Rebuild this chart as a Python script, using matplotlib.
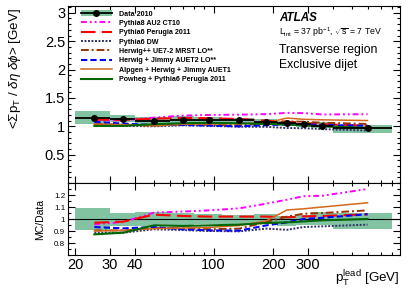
import numpy as np
import matplotlib
matplotlib.use("Agg")
import matplotlib.pyplot as plt
from matplotlib.patches import Patch
from matplotlib.lines import Line2D
from matplotlib.legend_handler import HandlerTuple
from matplotlib.ticker import FixedLocator, MultipleLocator, NullFormatter

plt.rcParams['font.family'] = ['Liberation Sans', 'DejaVu Sans']
plt.rcParams['mathtext.fontset'] = 'custom'
plt.rcParams['mathtext.rm'] = 'Liberation Sans'
plt.rcParams['mathtext.it'] = 'Liberation Sans:italic'

# bins in leading jet pT [GeV]
bin_edges = [20, 30, 40, 60, 80, 110, 160, 210, 260, 310, 400, 800]
bin_centers = [25, 35, 50, 70, 95, 135, 185, 235, 285, 355, 600]

data_2010 = [1.154, 1.136, 1.094, 1.119, 1.119, 1.106, 1.076, 1.065, 1.035, 1.012, 0.97]
band_hi = [1.094, 1.053, 1.06, 1.05, 1.045, 1.033, 1.044, 1.025, 1.03, 1.058, 1.053]
band_lo = [0.908, 0.945, 0.94, 0.95, 0.955, 0.95, 0.955, 0.94, 0.95, 0.95, 0.914]

# MC / data ratios
r_pythia8 = [0.955, 0.975, 1.053, 1.062, 1.072, 1.089, 1.128, 1.161, 1.19, 1.194, 1.25]
r_perugia = [0.969, 0.978, 1.036, 1.025, 1.02, 1.02, 1.02, 1.014, 1.022, 1.025, 1.039]
r_dw = [0.886, 0.886, 0.914, 0.908, 0.90, 0.897, 0.92, 0.91, 0.933, 0.939, 0.953]
r_herwigpp = [0.905, 0.905, 0.925, 0.922, 0.915, 0.92, 0.975, 1.02, 1.044, 1.05, 1.072]
r_jimmy = [0.933, 0.922, 0.933, 0.914, 0.905, 0.903, 0.947, 0.972, 1.0, 1.01, 1.04]
r_alpgen = [0.90, 0.905, 0.92, 0.925, 0.93, 0.945, 0.985, 1.075, 1.085, 1.10, 1.135]
r_powheg = [0.872, 0.886, 0.947, 0.942, 0.947, 0.953, 0.967, 0.972, 0.98, 0.989, 1.0]

mc_names = ["Pythia8 AU2 CT10", "Pythia6 Perugia 2011", "Pythia6 DW",
            "Herwig++ UE7-2 MRST LO**", "Herwig + Jimmy AUET2 LO**",
            "Alpgen + Herwig + Jimmy AUET1", "Powheg + Pythia6 Perugia 2011"]
mc_ratios = [r_pythia8, r_perugia, r_dw, r_herwigpp, r_jimmy, r_alpgen, r_powheg]
mc_colors = ["#ff00ff", "#ff0000", "#333366", "#993300", "#0000ff", "#d2691e", "#006600"]
mc_dashes = [(3, 1.5, 1, 1.5, 1, 1.5), (7, 3), (1, 0.8), (4, 1.5, 1, 1.5), (3, 1.5), None, None]
mc_lw = [1.4, 1.5, 1.4, 1.4, 1.5, 1.1, 1.5]

band_color = "#82c4a2"

edges = np.array(bin_edges, dtype=float)
widths = np.diff(edges)
data = np.array(data_2010)
lo = np.array(band_lo)
hi = np.array(band_hi)

fig = plt.figure(figsize=(4.07, 2.92), dpi=100)
ax = fig.add_axes([68/407, 1 - 183/292, 332/407, 177/292])
axr = fig.add_axes([68/407, 1 - 255/292, 332/407, 72/292])

# upper panel
ax.bar(edges[:-1], data * (hi - lo), bottom=data * lo, width=widths, align='edge',
       color=band_color, linewidth=0, zorder=1)
mc_handles = []
for name, r, c, d, lw in zip(mc_names, mc_ratios, mc_colors, mc_dashes, mc_lw):
    ln, = ax.plot(bin_centers, data * np.array(r), color=c, lw=lw, zorder=2, label=name)
    if d is not None:
        ln.set_dashes(d)
    mc_handles.append(ln)
    ln2, = axr.plot(bin_centers, r, color=c, lw=lw, zorder=3)
    if d is not None:
        ln2.set_dashes(d)

xerr = [np.array(bin_centers) - edges[:-1], edges[1:] - np.array(bin_centers)]
ax.errorbar(bin_centers, data, xerr=xerr, fmt='o', color='black', ms=4, lw=1.3,
            capsize=0, zorder=4)

data_handle = (Patch(facecolor=band_color, edgecolor='none'),
               Line2D([], [], color='black', lw=1.3, marker='o', ms=4))
ax.legend([data_handle] + mc_handles, ["Data 2010"] + mc_names,
          handler_map={tuple: HandlerTuple(ndivide=1, pad=0)},
          loc='upper left', bbox_to_anchor=(0.025, 1.0), frameon=False,
          prop={'weight': 'bold', 'size': 5.1},
          handlelength=4.4, handleheight=0.9, handletextpad=1.0, labelspacing=0.28,
          borderaxespad=0.2)

ax.text(0.635, 0.935, "ATLAS", transform=ax.transAxes, fontsize=8.4,
        fontweight='bold', fontstyle='italic', va='center')
ax.text(0.635, 0.85, r"L$_{\rm int}$ = 37 pb$^{-1}$, $\sqrt{\rm s}$ = 7 TeV",
        transform=ax.transAxes, fontsize=6.3, va='center')
ax.text(0.635, 0.75, "Transverse region", transform=ax.transAxes, fontsize=8.8, va='center')
ax.text(0.635, 0.665, "Exclusive dijet", transform=ax.transAxes, fontsize=8.8, va='center')

ax.set_xscale('log')
ax.set_xlim(18.4, 875)
ax.set_ylim(0, 3.12)
ax.set_yticks([0.5, 1.0, 1.5, 2.0, 2.5, 3.0])
ax.set_yticklabels(["0.5", "1", "1.5", "2", "2.5", "3"])
ax.yaxis.set_minor_locator(MultipleLocator(0.1))
ax.set_ylabel(r"<$\Sigma$p$_{\rm T}$ / $\delta\eta$ $\delta\phi$> [GeV]", fontsize=9.6)
ax.yaxis.set_label_coords(-0.135, 0.645)

# ratio panel
axr.bar(edges[:-1], hi - lo, bottom=lo, width=widths, align='edge',
        color=band_color, linewidth=0, zorder=1)
axr.axhline(1.0, color='black', lw=0.8, zorder=2)
axr.set_xscale('log')
axr.set_xlim(18.4, 875)
axr.set_ylim(0.7, 1.3)
axr.set_yticks([0.8, 0.9, 1.0, 1.1, 1.2])
axr.set_yticklabels(["0.8", "0.9", "1", "1.1", "1.2"])
axr.yaxis.set_minor_locator(MultipleLocator(0.05))
axr.set_ylabel("MC/Data", fontsize=7.5)
axr.yaxis.set_label_coords(-0.07, 0.5)
axr.set_xlabel(r"p$_{\rm T}^{\rm lead}$ [GeV]", fontsize=9.6, loc='right', labelpad=-2)

for a in (ax, axr):
    a.xaxis.set_major_locator(FixedLocator([20, 30, 40, 100, 200, 300]))
    a.xaxis.set_minor_locator(FixedLocator([50, 60, 70, 80, 90, 400, 500, 600, 700, 800]))
    a.xaxis.set_minor_formatter(NullFormatter())
    a.tick_params(which='both', direction='in', top=True, right=True, width=0.8)
    a.tick_params(which='major', length=5)
    a.tick_params(which='minor', length=2.5)
    for s in a.spines.values():
        s.set_linewidth(0.8)

ax.tick_params(axis='x', labelbottom=False)
ax.tick_params(axis='y', labelsize=10.5, pad=2)
axr.set_xticklabels(["20", "30", "40", "100", "200", "300"])
axr.tick_params(axis='x', labelsize=10.5, pad=2)
axr.tick_params(axis='y', labelsize=5.8, pad=2)

fig.savefig("out.png", dpi=100)
